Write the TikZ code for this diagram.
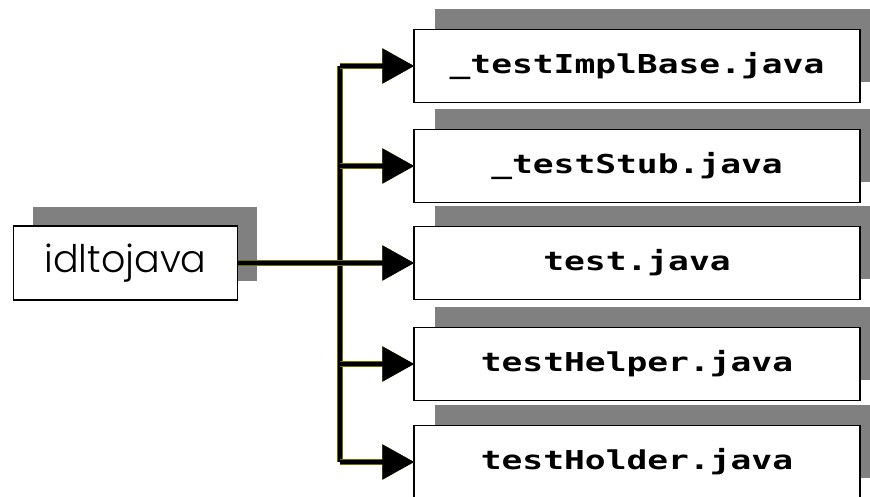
\documentclass[tikz,border=0pt]{standalone}
\usepackage{fontspec}
\usetikzlibrary{shadows,arrows.meta}
\newfontfamily\boxmono[FakeStretch=1.33]{DejaVu Sans Mono Bold}
\IfFontExistsTF{Poppins Light}{\newfontfamily\idlfont{Poppins Light}}{%
  \IfFontExistsTF{Lato Light}{\newfontfamily\idlfont{Lato Light}}{\newfontfamily\idlfont{Liberation Sans}}}
\definecolor{shadowgray}{RGB}{128,128,128}
\definecolor{fringe}{RGB}{110,110,0}
\tikzset{
  filebox/.style={draw=black, line width=1.5pt, fill=white, minimum width=446pt, minimum height=73pt,
    inner sep=0pt, font=\boxmono\fontsize{26}{30}\selectfont,
    drop shadow={shadow xshift=21pt, shadow yshift=21pt, fill=shadowgray, opacity=1}},
  toolbox/.style={draw=black, line width=1.5pt, fill=white, minimum width=224pt, minimum height=74pt,
    inner sep=0pt, font=\idlfont\fontsize{38}{44}\selectfont,
    drop shadow={shadow xshift=19pt, shadow yshift=19pt, fill=shadowgray, opacity=1}},
  conn/.style={draw=black, line width=4.5pt, preaction={draw=fringe, line width=6.5pt}},
  tip/.style={-{Triangle[length=32pt,width=34pt]}, shorten >=-1pt}
}
\begin{document}
\begin{tikzpicture}[x=1pt,y=-1pt]
\useasboundingbox (0,0) rectangle (870,496);
\clip (0,0) rectangle (870,496);
\fill[white] (0,0) rectangle (870,496);
\node[toolbox] (idl) at (125.5,263) {idltojava};
\node[filebox] (f1) at (637,66) {\_testImplBase.java};
\node[filebox] (f2) at (637,166) {\_testStub.java};
\node[filebox] (f3) at (637,263) {test.java};
\node[filebox] (f4) at (637,364) {testHelper.java};
\node[filebox] (f5) at (637,462) {testHolder.java};
\coordinate (hub) at (340,263);
\coordinate (top) at (340,66);
\coordinate (bot) at (340,462);
\draw[conn] (top) -- (bot);
\draw[conn, tip] (idl.east) -- (f3.west);
\draw[conn, tip] (top) -- (f1.west);
\draw[conn, tip] (hub |- f2.west) -- (f2.west);
\draw[conn, tip] (hub |- f4.west) -- (f4.west);
\draw[conn, tip] (bot) -- (f5.west);
\end{tikzpicture}
\end{document}
